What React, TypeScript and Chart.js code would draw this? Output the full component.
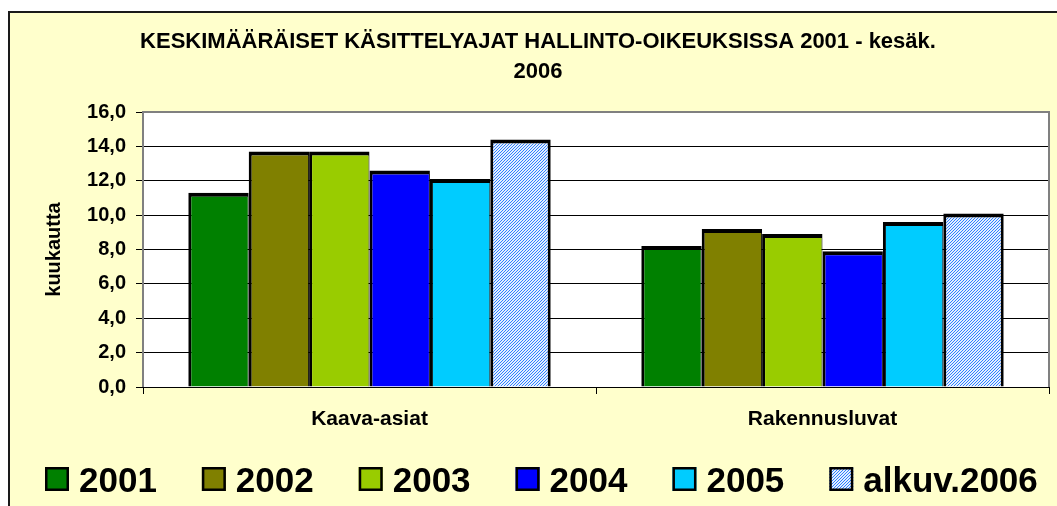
import React, { useEffect, useRef } from 'react';
import { Chart, registerables } from 'chart.js';

Chart.register(...registerables);

const categories = ['Kaava-asiat', 'Rakennusluvat'];
const seriesLabels = ['2001', '2002', '2003', '2004', '2005', 'alkuv.2006'];
const values2001 = [11.3, 8.2];
const values2002 = [13.7, 9.2];
const values2003 = [13.7, 8.9];
const values2004 = [12.6, 7.9];
const values2005 = [12.1, 9.6];
const values2006 = [14.4, 10.1];
const yTickValues = [0, 2, 4, 6, 8, 10, 12, 14, 16];
const titleLines = ['KESKIMÄÄRÄISET KÄSITTELYAJAT HALLINTO-OIKEUKSISSA 2001 - kesäk.', '2006'];
const yAxisTitle = 'kuukautta';

const FONT = '"Liberation Sans", Arial, Helvetica, sans-serif';
const W = 1049;
const H = 495;

function makeHatch(): CanvasPattern | string {
  const c = document.createElement('canvas');
  c.width = 3;
  c.height = 3;
  const p = c.getContext('2d');
  if (!p) return '#a5c9ff';
  p.fillStyle = '#e2efff';
  p.fillRect(0, 0, 3, 3);
  p.fillStyle = '#2f7fff';
  for (let x = 0; x < 3; x++) {
    for (let y = 0; y < 3; y++) {
      if ((x + y) % 3 === 0) p.fillRect(x, y, 1, 1);
    }
  }
  const ctx = document.createElement('canvas').getContext('2d');
  const pat = ctx ? ctx.createPattern(c, 'repeat') : null;
  return pat || '#a5c9ff';
}

const backgroundPlugin = {
  id: 'bgFrame',
  beforeDraw(chart: any) {
    const { ctx, chartArea } = chart;
    ctx.save();
    ctx.fillStyle = '#ffffcc';
    ctx.fillRect(0, 0, chart.width, chart.height);
    ctx.fillStyle = '#ffffff';
    ctx.fillRect(chartArea.left, chartArea.top, chartArea.right - chartArea.left, chartArea.bottom - chartArea.top);
    ctx.fillStyle = '#1a1a1a';
    ctx.fillRect(0, 0, chart.width, 2);
    ctx.fillRect(0, 0, 2, chart.height);
    ctx.restore();
  },
  beforeDatasetsDraw(chart: any) {
    const { ctx, chartArea } = chart;
    ctx.save();
    ctx.strokeStyle = '#808080';
    ctx.lineWidth = 2;
    ctx.beginPath();
    ctx.moveTo(chartArea.left, chartArea.bottom);
    ctx.lineTo(chartArea.left, chartArea.top);
    ctx.lineTo(chartArea.right, chartArea.top);
    ctx.lineTo(chartArea.right, chartArea.bottom);
    ctx.stroke();
    ctx.restore();
  },
  afterDraw(chart: any) {
    const { ctx } = chart;
    ctx.save();
    // title
    ctx.fillStyle = '#000';
    ctx.textAlign = 'center';
    ctx.textBaseline = 'alphabetic';
    ctx.font = `bold 22px ${FONT}`;
    ctx.fillText(titleLines[0], 530, 37);
    ctx.fillText(titleLines[1], 530, 66.5);
    // legend
    ctx.textAlign = 'left';
    ctx.font = `bold 35px ${FONT}`;
    let x = 37;
    const top = 456;
    const size = 24;
    chart.data.datasets.forEach((ds: any) => {
      ctx.fillStyle = ds.backgroundColor;
      ctx.fillRect(x, top, size, size);
      ctx.lineWidth = 2.5;
      ctx.strokeStyle = '#000';
      ctx.strokeRect(x + 1.25, top + 1.25, size - 2.5, size - 2.5);
      ctx.fillStyle = '#000';
      ctx.fillText(ds.label, x + size + 10, top + size + 0.5);
      x += size + 10 + ctx.measureText(ds.label).width + 45;
    });
    ctx.restore();
  },
};

export default function App() {
  const ref = useRef<HTMLCanvasElement | null>(null);

  useEffect(() => {
    if (!ref.current) return;
    const hatch = makeHatch();
    const colors: any[] = ['#008000', '#808000', '#99cc00', '#0000ff', '#00ccff', hatch];
    const seriesValues = [values2001, values2002, values2003, values2004, values2005, values2006];
    const last = seriesValues.length - 1;
    const tickFont = { family: FONT, size: 20, weight: 'bold' as const };
    const catFont = { family: FONT, size: 21, weight: 'bold' as const };

    const chart = new Chart(ref.current, {
      type: 'bar',
      data: {
        labels: categories,
        datasets: seriesValues.map((vals, i) => ({
          label: seriesLabels[i],
          data: vals,
          backgroundColor: colors[i],
          borderColor: '#000000',
          borderWidth: { top: 4, left: 3, right: i === last ? 3 : 1, bottom: 0 },
          borderSkipped: 'start' as const,
          inflateAmount: 0,
          categoryPercentage: 0.8,
          barPercentage: 1.0,
        })),
      },
      options: {
        animation: false,
        responsive: false,
        maintainAspectRatio: false,
        layout: { padding: { left: 0, top: 101, right: 8, bottom: 0 } },
        plugins: {
          legend: { display: false },
          title: { display: false },
          tooltip: { enabled: false },
        },
        scales: {
          x: {
            grid: {
              display: true,
              drawOnChartArea: false,
              drawTicks: true,
              tickLength: 7,
              color: '#000000',
              offset: true,
              lineWidth: 1,
            },
            border: { display: true, color: '#000000', width: 1 },
            ticks: { font: catFont, color: '#000000', padding: 13 },
            afterFit: (s: any) => {
              s.height = 119;
            },
          },
          y: {
            min: 0,
            max: 16,
            afterBuildTicks: (s: any) => {
              s.ticks = yTickValues.map((v) => ({ value: v }));
            },
            ticks: {
              font: tickFont,
              color: '#000000',
              padding: 10,
              callback: (v: any) => Number(v).toFixed(1).replace('.', ','),
            },
            grid: { color: '#000000', lineWidth: 1, tickLength: 7, drawTicks: true },
            border: { display: false },
            title: {
              display: true,
              text: yAxisTitle,
              font: tickFont,
              color: '#000000',
              padding: { top: 34, bottom: 0 },
            },
            afterFit: (s: any) => {
              s.width = 135;
            },
          },
        },
      },
      plugins: [backgroundPlugin],
    });
    return () => chart.destroy();
  }, []);

  return (
    <div style={{ position: 'absolute', left: 8, top: 11, width: W, height: H }}>
      <canvas ref={ref} width={W} height={H} style={{ display: 'block', width: W, height: H }} />
    </div>
  );
}
